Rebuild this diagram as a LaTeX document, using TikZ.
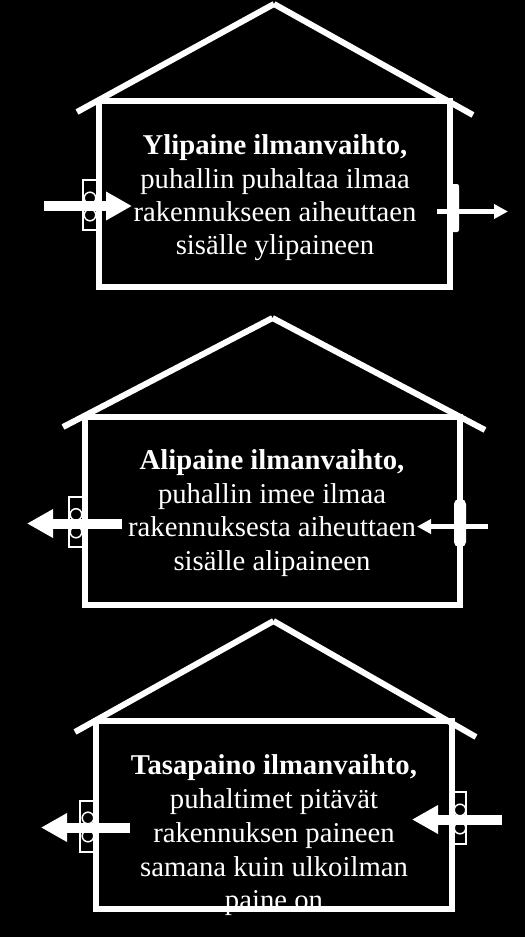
\documentclass[tikz,border=0pt]{standalone}
\usepackage{fontspec}
\setmainfont{Liberation Serif}
\usetikzlibrary{arrows.meta}
\begin{document}
\begin{tikzpicture}[x=1pt,y=-1pt,
  wallline/.style={draw=white, line width=6pt},
  roofline/.style={draw=white, line width=6pt, line cap=butt},
  txt/.style={text=white, anchor=base, inner sep=0pt, font=\fontsize{28.7}{33}\selectfont},
  ttl/.style={text=white, anchor=base, inner sep=0pt, font=\fontsize{28.7}{33}\selectfont\bfseries},
  fanbox/.style={draw=white, line width=1.5pt},
  fanring/.style={draw=white, line width=1.5pt},
  bigarrow/.style={draw=white, line width=10pt, -{Triangle[length=26pt,width=27pt]}},
  thinarrow/.style={draw=white, line width=5pt, -{Triangle[length=14pt,width=14pt]}},
  damper/.style={fill=white}]
\useasboundingbox (0,0) rectangle (525,937);
\fill[black] (0,0) rectangle (525,937);

% ---------- House 1 ----------
\coordinate (r1a) at (274,4);
\coordinate (r1l) at (77,112);
\coordinate (r1r) at (473,115);
\draw[roofline] (r1l) -- (r1a);
\draw[roofline] (r1a) -- (r1r);
\draw[wallline] (99,101) rectangle (450,287);
% left fan
\draw[fanbox] (83,180) rectangle (99,230);
\draw[fanring] (90,198) circle (5.8);
\draw[fanring] (90,215) circle (5.8);
% right damper
\fill[damper, rounded corners=2pt] (447,184) rectangle (459,232);
\coordinate (a1s) at (44,206);
\coordinate (a1e) at (132,206);
\draw[bigarrow] (a1s) -- (a1e);
\coordinate (b1s) at (437,211.5);
\coordinate (b1e) at (508,211.5);
\draw[thinarrow] (b1s) -- (b1e);
\node[ttl] (t1a) at (275,154) {Ylipaine ilmanvaihto,};
\node[txt] (t1b) at (275,188) {puhallin puhaltaa ilmaa};
\node[txt] (t1c) at (275,221) {rakennukseen aiheuttaen};
\node[txt] (t1d) at (275,254) {sisälle ylipaineen};

% ---------- House 2 ----------
\coordinate (r2a) at (272.5,318);
\coordinate (r2l) at (63,427);
\coordinate (r2r) at (485,430);
\draw[roofline] (r2l) -- (r2a);
\draw[roofline] (r2a) -- (r2r);
\draw[wallline] (85,417) rectangle (460,605);
\draw[fanbox] (69,497) rectangle (85,547);
\draw[fanring] (76,514.5) circle (5.8);
\draw[fanring] (76,532) circle (5.8);
\fill[damper, rounded corners=5pt] (454,499) rectangle (466,547);
\coordinate (a2s) at (122,523.5);
\coordinate (a2e) at (27,523.5);
\draw[bigarrow] (a2s) -- (a2e);
\coordinate (b2s) at (488,526.5);
\coordinate (b2e) at (417,526.5);
\draw[thinarrow] (b2s) -- (b2e);
\node[ttl] (t2a) at (272,469) {Alipaine ilmanvaihto,};
\node[txt] (t2b) at (272,503) {puhallin imee ilmaa};
\node[txt] (t2c) at (272,536) {rakennuksesta aiheuttaen};
\node[txt] (t2d) at (272,570) {sisälle alipaineen};

% ---------- House 3 ----------
\coordinate (r3a) at (273.5,621);
\coordinate (r3l) at (75,732);
\coordinate (r3r) at (476,737);
\draw[roofline] (r3l) -- (r3a);
\draw[roofline] (r3a) -- (r3r);
\draw[wallline] (96,721) rectangle (452,909);
\draw[fanbox] (80,801) rectangle (96,852);
\draw[fanring] (88,818) circle (5.8);
\draw[fanring] (88,836) circle (5.8);
\draw[fanbox] (452,792) rectangle (466,844);
\draw[fanring] (460,810) circle (5.8);
\draw[fanring] (460,828) circle (5.8);
\coordinate (a3s) at (130,827.5);
\coordinate (a3e) at (41,827.5);
\draw[bigarrow] (a3s) -- (a3e);
\coordinate (b3s) at (502,819.5);
\coordinate (b3e) at (412,819.5);
\draw[bigarrow] (b3s) -- (b3e);
\node[ttl] (t3a) at (274,774) {Tasapaino ilmanvaihto,};
\node[txt] (t3b) at (274,808) {puhaltimet pitävät};
\node[txt] (t3c) at (274,842) {rakennuksen paineen};
\node[txt] (t3d) at (274,876) {samana kuin ulkoilman};
\node[txt] (t3e) at (274,909) {paine on};
\end{tikzpicture}
\end{document}
